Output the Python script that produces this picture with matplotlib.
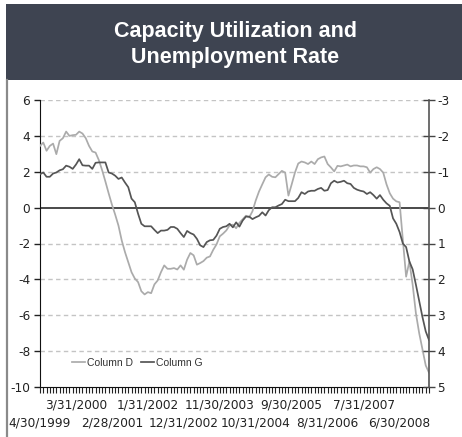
import matplotlib
matplotlib.use('Agg')
import matplotlib.pyplot as plt
import numpy as np
from matplotlib.lines import Line2D
from matplotlib.patches import Rectangle

# ---------------- data ----------------
tick_labels = ["4/30/1999", "3/31/2000", "2/28/2001", "1/31/2002", "12/31/2002",
               "11/30/2003", "10/31/2004", "9/30/2005", "8/31/2006", "7/31/2007",
               "6/30/2008"]

# Column D (left axis), monthly from 4/30/1999 to 3/31/2009
column_d = [3.44, 3.63, 3.17, 3.44, 3.57, 2.98, 3.72, 3.87, 4.24, 4.0,
            4.04, 4.06, 4.24, 4.13, 3.87, 3.44, 3.13, 3.07, 2.65, 2.09,
            1.46, 0.8, 0.17, -0.39, -1.0, -1.83, -2.48, -3.04, -3.6, -3.95,
            -4.15, -4.66, -4.84, -4.71, -4.77, -4.28, -4.06, -3.6, -3.22, -3.41,
            -3.41, -3.37, -3.45, -3.22, -3.46, -2.9, -2.53, -2.66, -3.18, -3.09,
            -2.98, -2.79, -2.72, -2.35, -2.05, -1.6, -1.45, -1.27, -0.99, -0.95,
            -1.15, -0.85, -0.65, -0.45, -0.55, -0.2, 0.4, 0.9, 1.3, 1.69,
            1.85, 1.72, 1.69, 1.87, 2.05, 1.95, 0.67, 1.3, 1.96, 2.46,
            2.57, 2.52, 2.43, 2.57, 2.43, 2.7, 2.8, 2.85, 2.43, 2.24,
            2.02, 2.33, 2.3, 2.35, 2.4, 2.3, 2.35, 2.35, 2.3, 2.3,
            2.25, 1.95, 2.15, 2.25, 2.15, 1.95, 1.3, 0.8, 0.5, 0.35,
            0.3, -1.8, -3.85, -3.0, -4.3, -5.9, -7.0, -7.9, -8.8, -9.2]

# Column G (right axis, inverted)
column_g = [-0.93, -0.98, -0.86, -0.86, -0.95, -0.98, -1.04, -1.07, -1.17, -1.14,
            -1.08, -1.2, -1.35, -1.18, -1.17, -1.17, -1.08, -1.25, -1.26, -1.26,
            -1.26, -0.98, -0.95, -0.89, -0.8, -0.84, -0.7, -0.57, -0.25, -0.15,
            0.17, 0.45, 0.52, 0.52, 0.52, 0.62, 0.71, 0.64, 0.64, 0.62,
            0.54, 0.54, 0.59, 0.71, 0.82, 0.65, 0.71, 0.75, 0.87, 1.05,
            1.1, 0.96, 0.91, 0.9, 0.78, 0.59, 0.54, 0.52, 0.45, 0.55,
            0.41, 0.53, 0.36, 0.25, 0.25, 0.32, 0.27, 0.23, 0.13, 0.22,
            0.07, -0.01, -0.01, -0.06, -0.1, -0.22, -0.18, -0.18, -0.18, -0.27,
            -0.43, -0.38, -0.45, -0.47, -0.47, -0.52, -0.55, -0.47, -0.49, -0.68,
            -0.75, -0.7, -0.72, -0.75, -0.68, -0.66, -0.55, -0.5, -0.47, -0.45,
            -0.38, -0.43, -0.35, -0.25, -0.35, -0.22, -0.12, -0.05, 0.3, 0.45,
            0.68, 1.0, 1.1, 1.5, 1.72, 2.15, 2.6, 3.05, 3.45, 3.69]

series_names = ["Column D", "Column G"]
title_lines = ["Capacity Utilization and", "Unemployment Rate"]
left_ticks = [6, 4, 2, 0, -2, -4, -6, -8, -10]
right_ticks = [-3, -2, -1, 0, 1, 2, 3, 4, 5]

# ---------------- figure ----------------
W, H = 462, 437
fig = plt.figure(figsize=(W / 100, H / 100), dpi=100)
fig.patch.set_facecolor('white')

# title bar
fig.patches.append(Rectangle((6 / W, 1 - 80 / H), 1 - 6 / W, 76 / H,
                             transform=fig.transFigure, facecolor='#3e4451',
                             edgecolor='none', zorder=0))
fig.lines.append(Line2D([7 / W, 7 / W], [0, 1 - 80 / H], transform=fig.transFigure,
                        color='#8a8a8a', lw=1.6))
fig.text(235 / W, 1 - 36.5 / H, title_lines[0], color='white', fontsize=15.5,
         fontweight='bold', family='Liberation Sans', ha='center', va='baseline')
fig.text(235 / W, 1 - 62.5 / H, title_lines[1], color='white', fontsize=15.5,
         fontweight='bold', family='Liberation Sans', ha='center', va='baseline')

left, right, top, bottom = 40, 429, 100, 387
ax = fig.add_axes([left / W, 1 - bottom / H, (right - left) / W, (bottom - top) / H])
ax2 = ax.twinx()

x = np.arange(len(column_d))
ax.set_xlim(0, len(x) - 1)
ax.set_ylim(-10, 6)
ax2.set_ylim(5, -3)

# grid lines
for v in left_ticks:
    if v == 0:
        ax.axhline(0, color='#2a2a2a', lw=1.2, zorder=1)
    elif v != -10:
        ax.axhline(v, color='#c4c4c4', lw=1.0, ls=(0, (3.2, 2.4)), zorder=1)

lD, = ax.plot(x, column_d, color='#ababab', lw=1.25, zorder=3)
lG, = ax2.plot(x, column_g, color='#555555', lw=1.25, zorder=3)

# y ticks
ax.set_yticks(left_ticks)
ax.set_yticklabels([str(v) for v in left_ticks])
ax2.set_yticks(right_ticks)
ax2.set_yticklabels([str(v) for v in right_ticks])

# x ticks: every month as tick marks, labels every 11 months on two rows
major = np.arange(0, len(x), 11)
upper_pos = major[1::2]
lower_pos = major[0::2]
ax.set_xticks(upper_pos)
ax.set_xticklabels(tick_labels[1::2])
ax.set_xticks(x, minor=True)
ax.tick_params(axis='x', which='both', direction='out', length=4, width=0.8,
               color='#222222', pad=4, labelsize=8.7, labelcolor='#222222')

sec = ax.secondary_xaxis('bottom')
sec.set_xticks(lower_pos)
sec.set_xticklabels(tick_labels[0::2])
sec.tick_params(axis='x', length=0, pad=21, labelsize=8.7, labelcolor='#222222')
sec.spines['bottom'].set_visible(False)

ax.tick_params(axis='y', which='major', direction='out', length=4, width=1.0,
               color='#222222', pad=3, labelsize=8.7, labelcolor='#222222')
ax2.tick_params(axis='y', which='major', direction='inout', length=8, width=1.0,
                color='#444444', pad=2, labelsize=8.7, labelcolor='#222222')
for lbl in (ax.get_xticklabels() + sec.get_xticklabels() + ax.get_yticklabels()
            + ax2.get_yticklabels()):
    lbl.set_family('DejaVu Sans')

for s in ['top', 'right']:
    ax.spines[s].set_visible(False)
for s in ['top', 'left', 'bottom']:
    ax2.spines[s].set_visible(False)
ax.spines['left'].set_color('#111111')
ax.spines['bottom'].set_color('#111111')
ax2.spines['right'].set_color('#555555')
ax2.spines['right'].set_linewidth(1.2)

leg = ax2.legend([lD, lG], series_names, loc='center', bbox_to_anchor=(0.25, 0.084),
                 ncol=2, frameon=False, handlelength=1.25, handletextpad=0.2,
                 columnspacing=0.75, prop=dict(family='Liberation Sans', size=7.5))
for t in leg.get_texts():
    t.set_color('#333333')

fig.savefig('out.png', dpi=100, facecolor='white')
